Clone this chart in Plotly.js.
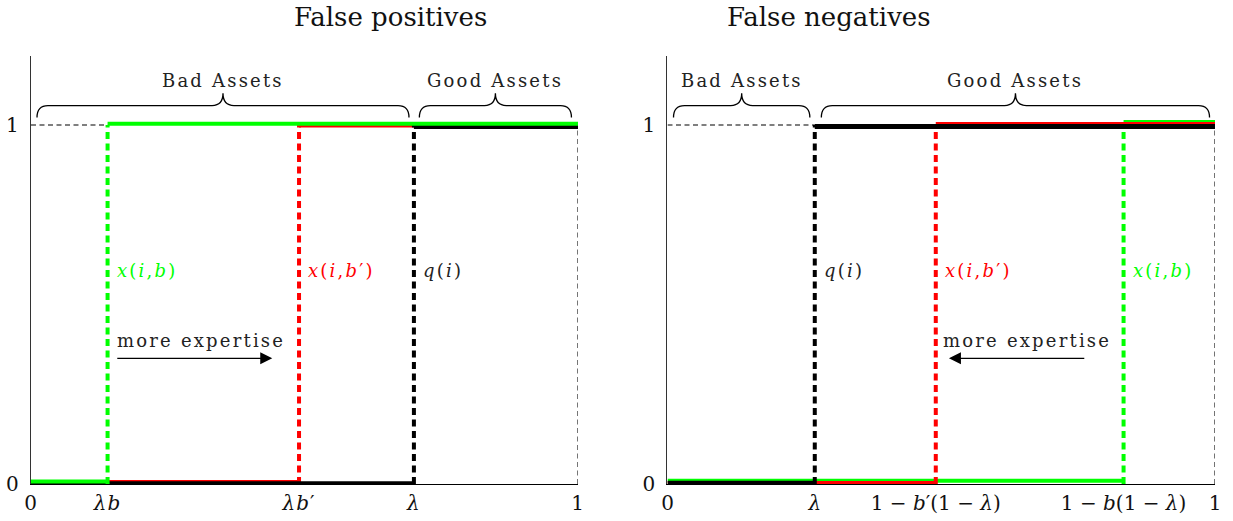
<!DOCTYPE html>
<html>
<head>
<meta charset="utf-8">
<script src="https://cdn.plot.ly/plotly-3.0.1.min.js"></script>
<style>
  html, body { margin: 0; padding: 0; background: #fff; }
  #chart { width: 1233px; height: 521px; }
  /* the small labels in the figure are set with wide letter spacing */
  .annotation-text[style*="18px"] { letter-spacing: 2.2px; }
  .xtick text { letter-spacing: 1px; }
</style>
</head>
<body>
<div id="chart"></div>
<script>
// tick positions and labels on the two x axes
var leftTicks = [0, 0.14, 0.49, 0.70, 1];
var leftTickText = ['0', '<i>λb</i>', '<i>λb</i>′', '<i>λ</i>', '1'];
var rightTicks = [0, 0.269, 0.49, 0.833, 1];
var rightTickText = ['0', '<i>λ</i>', '1 − <i>b</i>′(1 − <i>λ</i>)', '1 − <i>b</i>(1 − <i>λ</i>)', '1'];
var yTicks = [0, 1];
var yTickText = ['0', '1'];

// the three step functions: x(i,b), x(i,b'), q(i)
var curveLabels = ['<i>x</i>(<i>i</i>,<i>b</i>)', '<i>x</i>(<i>i</i>,<i>b</i>′)', '<i>q</i>(<i>i</i>)'];
var leftSwitch = [0.14, 0.49, 0.70];     // false positives
var rightSwitch = [0.833, 0.49, 0.269];  // false negatives
var stepLevels = [0, 1];

// brace spans over the asset groups
var braceLabels = ['Bad Assets', 'Good Assets'];
var leftBraces = [[0.011, 0.691], [0.710, 0.988]];
var rightBraces = [[0.011, 0.260], [0.281, 0.990]];

// "more expertise" arrows: [tail, head]
var leftArrow = [0.155, 0.441];
var rightArrow = [0.764, 0.514];

// styles
var colors = ['#00ff00', '#ff0000', '#000000'];
var widths = [4, 3, 5];
var serif = "DejaVu Serif";
// tiny vertical nudges so that overlapping steps stay visible, like the original
var panels = [
    { xa: 'x', ya: 'y', sw: leftSwitch, braces: leftBraces, arrow: leftArrow, textX: 0.31,
      order: [1, 2, 0], nudgeLow: [0.007, 0.007, 0.001], nudgeHigh: [0.003, -0.003, -0.004] },
    { xa: 'x2', ya: 'y2', sw: rightSwitch, braces: rightBraces, arrow: rightArrow, textX: 0.6575,
      order: [0, 1, 2], nudgeLow: [0.009, 0.004, 0.002], nudgeHigh: [0.008, 0.004, -0.004] }
];

var traces = [];
var shapes = [];
var annotations = [];

function bracePath(a, b) {
    var y0 = 1.021, y1 = 1.054, y2 = 1.088, rx = 0.02;
    var m = (a + b) / 2;
    return 'M' + a + ',' + y0 + ' Q' + a + ',' + y1 + ' ' + (a + rx) + ',' + y1 +
        ' L' + (m - rx) + ',' + y1 + ' Q' + m + ',' + y1 + ' ' + m + ',' + y2 +
        ' Q' + m + ',' + y1 + ' ' + (m + rx) + ',' + y1 +
        ' L' + (b - rx) + ',' + y1 + ' Q' + b + ',' + y1 + ' ' + b + ',' + y0;
}

panels.forEach(function (p) {
    var first = Math.min.apply(null, p.sw);

    // thin dashed guides
    traces.push({
        x: [0, first, null, 1, 1], y: [stepLevels[1], stepLevels[1], null, stepLevels[0], stepLevels[1]],
        xaxis: p.xa, yaxis: p.ya, mode: 'lines', hoverinfo: 'skip',
        line: { color: '#000', width: 1.1, dash: '5px,3.5px' }
    });

    p.order.forEach(function (i) {
        var s = p.sw[i];
        var lo = stepLevels[0] + p.nudgeLow[i], hi = stepLevels[1] + p.nudgeHigh[i];
        traces.push({
            x: [0, s, null, s, 1], y: [lo, lo, null, hi, hi],
            xaxis: p.xa, yaxis: p.ya, mode: 'lines', hoverinfo: 'skip',
            line: { color: colors[i], width: widths[i] }
        });
        traces.push({
            x: [s, s], y: stepLevels,
            xaxis: p.xa, yaxis: p.ya, mode: 'lines', hoverinfo: 'skip',
            line: { color: colors[i], width: 4, dash: '7px,4.5px' }
        });
        annotations.push({
            xref: p.xa, yref: p.ya, x: s, y: 0.594, xanchor: 'left', yanchor: 'middle',
            xshift: 7, showarrow: false, text: curveLabels[i],
            font: { family: serif, size: 18, color: i === 2 ? '#222' : colors[i] }
        });
    });

    p.braces.forEach(function (br, k) {
        shapes.push({
            type: 'path', xref: p.xa, yref: p.ya, path: bracePath(br[0], br[1]),
            line: { color: '#000', width: 1.3 }
        });
        annotations.push({
            xref: p.xa, yref: p.ya, x: (br[0] + br[1]) / 2, y: 1.1226, yanchor: 'middle',
            showarrow: false, text: braceLabels[k],
            font: { family: serif, size: 18, color: '#222' }
        });
    });

    annotations.push({
        xref: p.xa, yref: p.ya, x: p.textX, y: 0.401, yanchor: 'middle',
        showarrow: false, text: 'more expertise',
        font: { family: serif, size: 18, color: '#222' }
    });
    annotations.push({
        xref: p.xa, yref: p.ya, axref: p.xa, ayref: p.ya,
        x: p.arrow[1], y: 0.35, ax: p.arrow[0], ay: 0.35, text: '',
        showarrow: true, arrowhead: 2, arrowsize: 2, arrowwidth: 1.2, arrowcolor: '#000', standoff: 0
    });
});

annotations.push({
    xref: 'paper', yref: 'paper', x: 0.2367, y: 0.968, yanchor: 'middle', showarrow: false,
    text: 'False positives', font: { family: serif, size: 26, color: '#111' }
});
annotations.push({
    xref: 'paper', yref: 'paper', x: 0.7567, y: 0.968, yanchor: 'middle', showarrow: false,
    text: 'False negatives', font: { family: serif, size: 26, color: '#111' }
});

function xAxis(domain, vals, text, anchor) {
    return {
        domain: domain, range: [0, 1], anchor: anchor, tickvals: vals, ticktext: text, tickangle: 0,
        ticks: '', showgrid: false, zeroline: false, showline: true, linecolor: '#000', linewidth: 1.2,
        ticklabelstandoff: 1, tickfont: { family: serif, size: 20, color: '#111' }, fixedrange: true
    };
}
function yAxis(anchor) {
    return {
        domain: [0.071, 0.8925], range: [0, 1.192], anchor: anchor, tickvals: yTicks, ticktext: yTickText,
        ticks: '', showgrid: false, zeroline: false, showline: true, linecolor: '#333', linewidth: 1.2,
        ticklabelstandoff: 7, tickfont: { family: serif, size: 20, color: '#111' }, fixedrange: true
    };
}

var layout = {
    width: 1233, height: 521,
    margin: { l: 0, r: 0, t: 0, b: 0 },
    paper_bgcolor: '#fff', plot_bgcolor: '#fff',
    showlegend: false,
    xaxis: xAxis([0.02514, 0.46878], leftTicks, leftTickText, 'y'),
    yaxis: yAxis('x'),
    xaxis2: xAxis([0.54136, 0.98540], rightTicks, rightTickText, 'y2'),
    yaxis2: yAxis('x2'),
    shapes: shapes,
    annotations: annotations
};

Plotly.newPlot('chart', traces, layout, { displayModeBar: false, staticPlot: true });
</script>
</body>
</html>
